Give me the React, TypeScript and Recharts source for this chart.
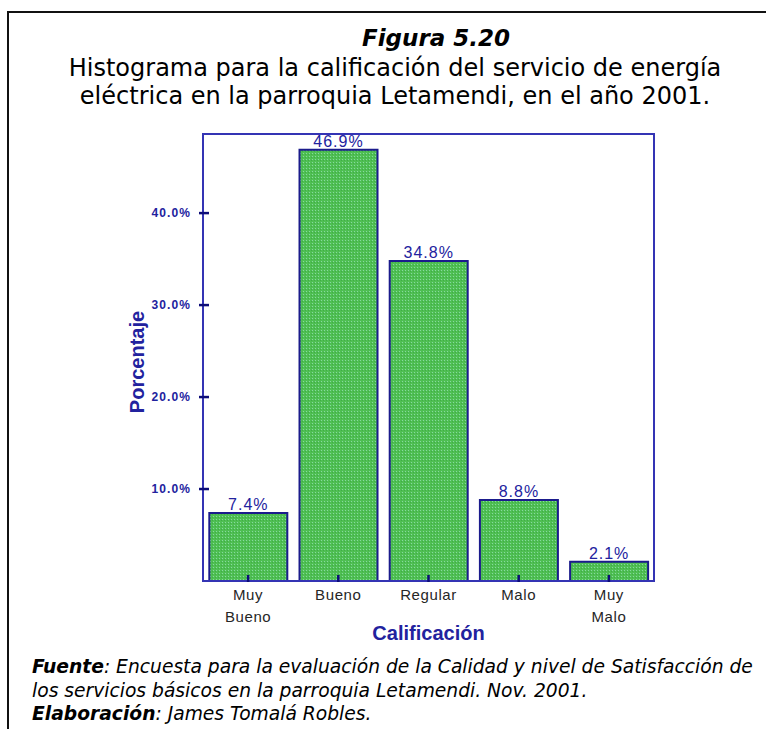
import { Bar, BarChart, LabelList, ReferenceArea, XAxis, YAxis } from 'recharts'

const categories = ['Muy Bueno', 'Bueno', 'Regular', 'Malo', 'Muy Malo']
const percentages = [7.4, 46.9, 34.8, 8.8, 2.1]
const yTicks = [10, 20, 30, 40]
const yMax = 48.6

const titleLines = [
  'Histograma para la calificación del servicio de energía',
  'eléctrica en la parroquia Letamendi, en el año 2001.'
]

const frameBlue = '#3434b4'
const tickNavy = '#0c0c78'
const labelNavy = '#22229e'

const rows = categories.map((name, i) => ({ name, value: percentages[i] }))

function XTick({ x, y, payload }: any): React.JSX.Element {
  const words = String(payload.value).split(' ')
  return (
    <g>
      <line x1={x} x2={x} y1={y - 6} y2={y + 1} stroke={tickNavy} strokeWidth={2.5} />
      <text
        x={x}
        y={y + 19}
        textAnchor="middle"
        fontSize={15}
        letterSpacing={0.6}
        fill="#262626"
        fontFamily="Liberation Sans, Arial"
      >
        {words.map((w, i) => (
          <tspan key={w + i} x={x} dy={i === 0 ? 0 : 22}>
            {w}
          </tspan>
        ))}
      </text>
    </g>
  )
}

function YTick({ x, y, payload }: any): React.JSX.Element {
  return (
    <g>
      <line x1={x - 4} x2={x + 6} y1={y} y2={y} stroke={tickNavy} strokeWidth={2.5} />
      <text
        x={x - 12}
        y={y + 4}
        textAnchor="end"
        fontSize={12}
        letterSpacing={1.1}
        fontWeight="bold"
        fill={labelNavy}
        fontFamily="Liberation Sans, Arial"
      >
        {payload.value.toFixed(1)}%
      </text>
    </g>
  )
}

export default function App(): React.JSX.Element {
  return (
    <div style={{ position: 'absolute', left: 0, top: 0, width: 766, height: 729, background: '#fff' }}>
      {/* page frame: top and left rule only */}
      <div
        style={{
          position: 'absolute',
          left: 7,
          top: 11,
          width: 759,
          height: 718,
          borderTop: '2px solid #111',
          borderLeft: '2px solid #111',
          boxSizing: 'border-box'
        }}
      />
      <div
        style={{
          position: 'absolute',
          left: 336,
          width: 200,
          top: 24,
          textAlign: 'center',
          fontFamily: 'DejaVu Sans, Verdana',
          fontStyle: 'italic',
          fontWeight: 'bold',
          fontSize: 23,
          lineHeight: '28px',
          color: '#000'
        }}
      >
        Figura 5.20
      </div>
      <div
        style={{
          position: 'absolute',
          left: 0,
          width: 790,
          top: 54,
          textAlign: 'center',
          fontFamily: 'DejaVu Sans, Verdana',
          fontSize: 24,
          lineHeight: '28px',
          color: '#000'
        }}
      >
        {titleLines.map((t) => (
          <div key={t}>{t}</div>
        ))}
      </div>

      <BarChart
        width={766}
        height={729}
        data={rows}
        margin={{ top: 134, right: 112, left: 143, bottom: 98 }}
        barCategoryGap="7%"
        style={{ position: 'absolute', left: 0, top: 0 }}
      >
        <defs>
          <pattern id="stipple" width="3" height="3" patternUnits="userSpaceOnUse">
            <rect width="3" height="3" fill="#4fbf53" />
            <rect x="0" y="0" width="1" height="1" fill="#86d9a0" />
            <rect x="2" y="1" width="1" height="1" fill="#40ad46" />
          </pattern>
        </defs>
        <ReferenceArea
          y1={0}
          y2={yMax}
          ifOverflow="visible"
          fill="none"
          fillOpacity={0}
          stroke={frameBlue}
          strokeWidth={2}
        />
        <XAxis
          dataKey="name"
          height={50}
          interval={0}
          axisLine={{ stroke: frameBlue, strokeWidth: 2 }}
          tickLine={false}
          tickSize={0}
          tickMargin={0}
          tick={<XTick />}
          label={{
            value: 'Calificación',
            position: 'bottom',
            offset: -5,
            fill: labelNavy,
            fontSize: 20,
            fontWeight: 'bold',
            fontFamily: 'Liberation Sans, Arial'
          }}
        />
        <YAxis
          width={60}
          domain={[0, yMax]}
          ticks={yTicks}
          interval={0}
          axisLine={{ stroke: frameBlue, strokeWidth: 2 }}
          tickLine={false}
          tickSize={0}
          tickMargin={0}
          tick={<YTick />}
          label={{
            content: () => (
              <text
                x={137}
                y={362}
                transform="rotate(-90 137 362)"
                textAnchor="middle"
                dominantBaseline="central"
                fill={labelNavy}
                fontSize={20}
                fontWeight="bold"
                fontFamily="Liberation Sans, Arial"
              >
                Porcentaje
              </text>
            )
          }}
        />
        <Bar dataKey="value" fill="url(#stipple)" stroke="#1b1b8c" strokeWidth={2} isAnimationActive={false}>
          <LabelList
            dataKey="value"
            position="top"
            offset={3}
            formatter={(v: any) => `${Number(v).toFixed(1)}%`}
            fill={labelNavy}
            fontSize={16}
            letterSpacing={1}
            fontFamily="Liberation Sans, Arial"
          />
        </Bar>
      </BarChart>

      <div
        style={{
          position: 'absolute',
          left: 32,
          top: 655,
          width: 734,
          fontFamily: 'DejaVu Sans, Verdana',
          fontStyle: 'italic',
          fontSize: 18.7,
          lineHeight: '23.5px',
          color: '#000',
          whiteSpace: 'nowrap'
        }}
      >
        <div>
          <b>Fuente</b>: Encuesta para la evaluación de la Calidad y nivel de Satisfacción de
        </div>
        <div>los servicios básicos en la parroquia Letamendi. Nov. 2001.</div>
        <div>
          <b>Elaboración</b>: James Tomalá Robles.
        </div>
      </div>
    </div>
  )
}
